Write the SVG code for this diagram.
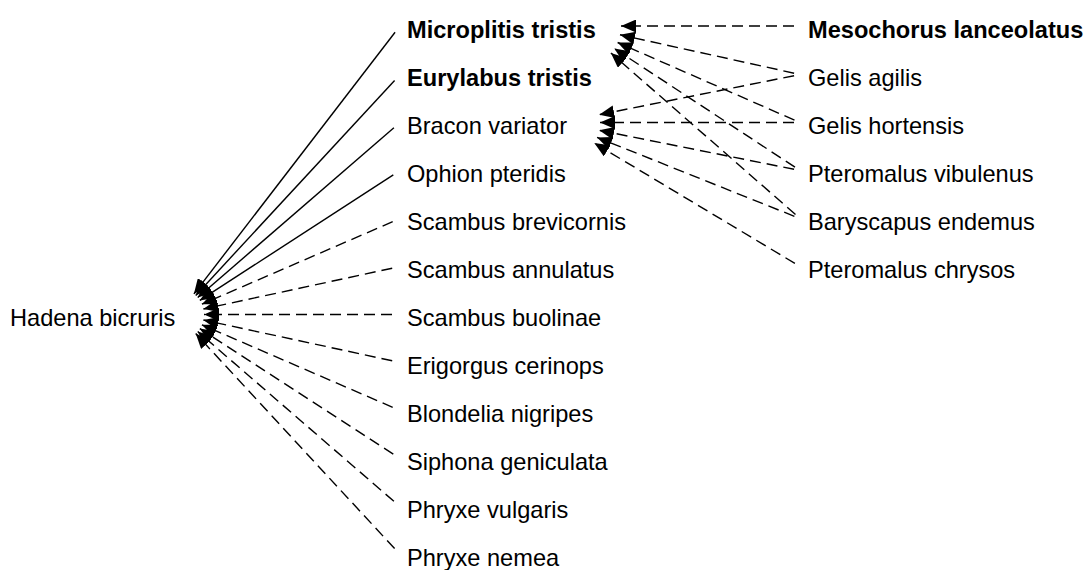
<svg xmlns="http://www.w3.org/2000/svg" width="1089" height="570" viewBox="0 0 1089 570">
<style>
.lbl{font-family:"Liberation Sans",Arial,sans-serif;font-size:23.6px;fill:#000}
.b{font-weight:bold}
.e{stroke:#000;stroke-width:1.4;fill:none;marker-end:url(#ah)}
.d{stroke-dasharray:11 6}
</style>
<defs>
<marker id="ah" viewBox="0 0 15 13" refX="15" refY="6.5" markerWidth="15" markerHeight="13" markerUnits="userSpaceOnUse" orient="auto"><path d="M0,0 L15,6.5 L0,13 z" fill="#000"/></marker>
</defs>
<g id="edges">
<line class="e" x1="395.1" y1="32.3" x2="193.9" y2="293.9"/>
<line class="e" x1="394.6" y1="80.4" x2="195.7" y2="295.4"/>
<line class="e" x1="393.9" y1="127.7" x2="197.7" y2="297.5"/>
<line class="e" x1="393.3" y1="174.9" x2="199.8" y2="300.4"/>
<line class="e d" x1="392.7" y1="221.7" x2="201.9" y2="304.2"/>
<line class="e d" x1="392.2" y1="268.2" x2="203.4" y2="309"/>
<line class="e d" x1="392" y1="314.5" x2="204" y2="314.5"/>
<line class="e d" x1="392.2" y1="360.8" x2="203.4" y2="320"/>
<line class="e d" x1="392.7" y1="407.3" x2="201.9" y2="324.8"/>
<line class="e d" x1="393.3" y1="454.1" x2="199.8" y2="328.6"/>
<line class="e d" x1="393.9" y1="501.3" x2="197.7" y2="331.5"/>
<line class="e d" x1="394.6" y1="548.6" x2="195.7" y2="333.6"/>
<line class="e d" x1="794" y1="26" x2="621" y2="26"/>
<line class="e d" x1="794.1" y1="73.2" x2="620" y2="34.8"/>
<line class="e d" x1="794.5" y1="120.1" x2="617.6" y2="42.5"/>
<line class="e d" x1="795" y1="167.2" x2="614.3" y2="48.5"/>
<line class="e d" x1="795.5" y1="214.5" x2="610.9" y2="53"/>
<line class="e d" x1="794.1" y1="75.7" x2="599.2" y2="114.7"/>
<line class="e d" x1="794" y1="122.5" x2="600" y2="122.5"/>
<line class="e d" x1="794.1" y1="169.3" x2="599.2" y2="130.3"/>
<line class="e d" x1="794.4" y1="216.3" x2="597.1" y2="137.4"/>
<line class="e d" x1="794.9" y1="263.4" x2="594.3" y2="143.1"/>
</g>
<g id="hadena-bicruris"><text class="lbl" x="10" y="325.5">Hadena bicruris</text></g>
<g id="microplitis-tristis"><text class="lbl b" x="407" y="37.5">Microplitis tristis</text></g>
<g id="eurylabus-tristis"><text class="lbl b" x="407" y="85.5">Eurylabus tristis</text></g>
<g id="bracon-variator"><text class="lbl" x="407" y="133.5">Bracon variator</text></g>
<g id="ophion-pteridis"><text class="lbl" x="407" y="181.5">Ophion pteridis</text></g>
<g id="scambus-brevicornis"><text class="lbl" x="407" y="229.5">Scambus brevicornis</text></g>
<g id="scambus-annulatus"><text class="lbl" x="407" y="277.5">Scambus annulatus</text></g>
<g id="scambus-buolinae"><text class="lbl" x="407" y="325.5">Scambus buolinae</text></g>
<g id="erigorgus-cerinops"><text class="lbl" x="407" y="373.5">Erigorgus cerinops</text></g>
<g id="blondelia-nigripes"><text class="lbl" x="407" y="421.5">Blondelia nigripes</text></g>
<g id="siphona-geniculata"><text class="lbl" x="407" y="469.5">Siphona geniculata</text></g>
<g id="phryxe-vulgaris"><text class="lbl" x="407" y="517.5">Phryxe vulgaris</text></g>
<g id="phryxe-nemea"><text class="lbl" x="407" y="565.5">Phryxe nemea</text></g>
<g id="mesochorus-lanceolatus"><text class="lbl b" x="808" y="37.5">Mesochorus lanceolatus</text></g>
<g id="gelis-agilis"><text class="lbl" x="808" y="85.5">Gelis agilis</text></g>
<g id="gelis-hortensis"><text class="lbl" x="808" y="133.5">Gelis hortensis</text></g>
<g id="pteromalus-vibulenus"><text class="lbl" x="808" y="181.5">Pteromalus vibulenus</text></g>
<g id="baryscapus-endemus"><text class="lbl" x="808" y="229.5">Baryscapus endemus</text></g>
<g id="pteromalus-chrysos"><text class="lbl" x="808" y="277.5">Pteromalus chrysos</text></g>
</svg>
